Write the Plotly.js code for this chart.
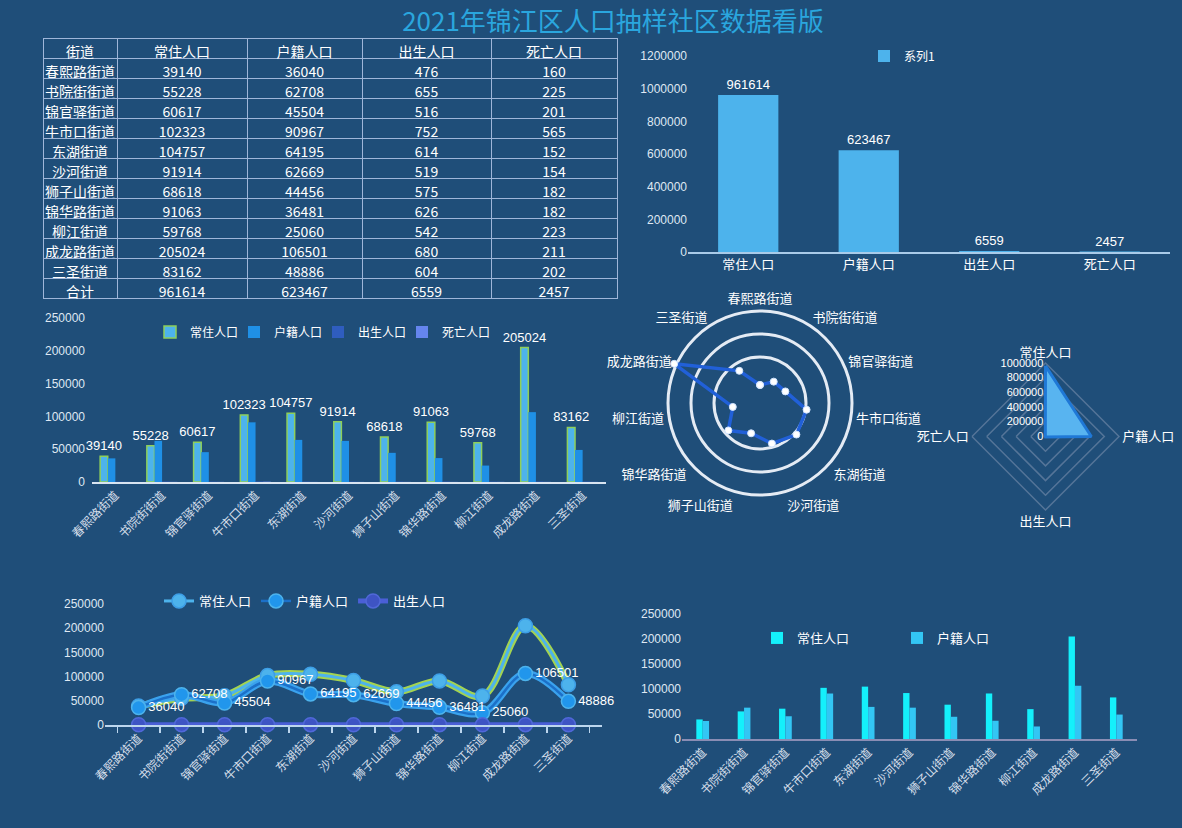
<!DOCTYPE html>
<html><head><meta charset="utf-8">
<script src="https://cdn.plot.ly/plotly-3.0.1.min.js"></script>
<style>html,body{margin:0;padding:0;background:#1f4e79;}#chart{width:1182px;height:828px;}</style>
</head><body><div id="chart"></div>
<script>
// ---------- data ----------
const streets = ['春熙路街道','书院街街道','锦官驿街道','牛市口街道','东湖街道','沙河街道','狮子山街道','锦华路街道','柳江街道','成龙路街道','三圣街道'];
const resident = [39140, 55228, 60617, 102323, 104757, 91914, 68618, 91063, 59768, 205024, 83162];
const hukou    = [36040, 62708, 45504, 90967, 64195, 62669, 44456, 36481, 25060, 106501, 48886];
const births   = [476, 655, 516, 752, 614, 519, 575, 626, 542, 680, 604];
const deaths   = [160, 225, 201, 565, 152, 154, 182, 182, 223, 211, 202];
const indicators = ['常住人口','户籍人口','出生人口','死亡人口'];
const tableHeader = ['街道','常住人口','户籍人口','出生人口','死亡人口'];
const totalLabel = '合计';
const titleText = '2021年锦江区人口抽样社区数据看版';

const sum = a => a.reduce((s, v) => s + v, 0);
const totals = [sum(resident), sum(hukou), sum(births), sum(deaths)];

// ---------- helpers ----------
const W = 1182, H = 828;
const px = x => x / W;
const py = y => 1 - y / H;
const FONT = 'Noto Sans CJK SC, Liberation Sans, sans-serif';
const NUMF = 'Liberation Sans, Noto Sans CJK SC, sans-serif';
const WHITE = '#ffffff';
const TICKC = '#dfe8f3';

const traces = [];

// ---------- table ----------
traces.push({
  type: 'table',
  domain: {x: [px(43), px(617)], y: [py(301), py(38)]},
  columnwidth: [74, 130, 115, 129, 126],
  header: {
    values: tableHeader, height: 20, align: 'center',
    fill: {color: 'rgba(0,0,0,0)'},
    line: {color: '#9fb6d9', width: 1},
    font: {family: FONT, size: 14, color: WHITE}
  },
  cells: {
    values: [streets.concat([totalLabel]), resident.concat([totals[0]]), hukou.concat([totals[1]]),
             births.concat([totals[2]]), deaths.concat([totals[3]])],
    height: 20, align: 'center',
    fill: {color: 'rgba(0,0,0,0)'},
    line: {color: '#9fb6d9', width: 1},
    font: {family: FONT, size: 14, color: WHITE}
  }
});

// ---------- chart 1: totals ----------
traces.push({
  type: 'bar', x: indicators, y: totals, xaxis: 'x', yaxis: 'y', name: '系列1', legend: 'legend',
  width: 0.5, offset: -0.25, marker: {color: '#4db3ec'},
  text: totals.map(String), textposition: 'outside', cliponaxis: false, constraintext: 'none',
  textfont: {family: NUMF, size: 13, color: WHITE}
});

// ---------- chart 2: grouped bars by street ----------
const w2 = 0.163;
[[resident, '常住人口', '#4db3ec', -2 * w2, true, 'legend2'],
 [hukou, '户籍人口', '#1f90e6', -w2, false, 'legend5'],
 [births, '出生人口', '#2f5dbf', 0, false, 'legend6'],
 [deaths, '死亡人口', '#6585ee', w2, false, 'legend7']].forEach(([vals, name, color, off, lab, lg]) => {
  const t = {
    type: 'bar', x: streets, y: vals, xaxis: 'x2', yaxis: 'y2', name: name, legend: lg,
    width: w2, offset: off, marker: {color: color, line: {color: lab ? '#8fcf5a' : color, width: lab ? 1.5 : 0}},
    cliponaxis: false
  };
  if (lab) {
    t.text = vals.map(String); t.textposition = 'outside'; t.constraintext = 'none';
    t.textfont = {family: NUMF, size: 13, color: WHITE};
  }
  traces.push(t);
});

// ---------- chart 3: radar of resident population ----------
traces.push({
  type: 'scatterpolar', subplot: 'polar',
  r: resident.concat([resident[0]]), theta: streets.concat([streets[0]]),
  mode: 'lines+markers', showlegend: false, cliponaxis: false,
  line: {color: '#2160d8', width: 3.5},
  marker: {color: WHITE, size: 7, line: {color: '#cfe3ff', width: 1}}
});

// ---------- chart 4: radar of totals ----------
traces.push({
  type: 'scatterpolar', subplot: 'polar2',
  r: totals.concat([totals[0]]), theta: indicators.concat([indicators[0]]),
  mode: 'lines', fill: 'toself', fillcolor: '#58b4f0', showlegend: false,
  line: {color: '#1f78d6', width: 3}
});

// ---------- chart 5: smooth lines ----------
traces.push({type: 'scatter', x: streets, y: resident, xaxis: 'x3', yaxis: 'y3', mode: 'lines', showlegend: false,
  line: {color: '#a3d352', width: 7, shape: 'spline', smoothing: 1}, cliponaxis: false});
traces.push({type: 'scatter', x: streets, y: resident, xaxis: 'x3', yaxis: 'y3', mode: 'lines+markers', name: '常住人口', legend: 'legend3',
  line: {color: '#4db3ec', width: 3, shape: 'spline', smoothing: 1},
  marker: {size: 14, color: '#4db3ec', line: {color: '#3d9ee6', width: 1.5}}, cliponaxis: false});
traces.push({type: 'scatter', x: streets, y: hukou, xaxis: 'x3', yaxis: 'y3', mode: 'lines', showlegend: false,
  line: {color: '#3aa2ee', width: 7, shape: 'spline', smoothing: 1}, cliponaxis: false});
traces.push({type: 'scatter', x: streets, y: hukou, xaxis: 'x3', yaxis: 'y3', mode: 'lines+markers+text', name: '户籍人口', legend: 'legend3',
  line: {color: '#1c70c8', width: 2.5, shape: 'spline', smoothing: 1},
  marker: {size: 14, color: '#2196ec', line: {color: '#4db3ec', width: 1.5}},
  text: hukou.map(String), textposition: 'middle right', textfont: {family: NUMF, size: 13, color: WHITE}, cliponaxis: false});
traces.push({type: 'scatter', x: streets, y: births, xaxis: 'x3', yaxis: 'y3', mode: 'lines+markers', name: '出生人口', legend: 'legend3',
  line: {color: '#4a5fd6', width: 5, shape: 'spline', smoothing: 1},
  marker: {size: 14, color: '#3e54c4', line: {color: '#5068d8', width: 1.5}}, cliponaxis: false});

// ---------- chart 6: two bars ----------
const w6 = 0.154;
[[resident, '常住人口', '#14f0fb', -w6], [hukou, '户籍人口', '#33c6f4', 0]].forEach(([vals, name, color, off]) => {
  traces.push({type: 'bar', x: streets, y: vals, xaxis: 'x4', yaxis: 'y4', name: name, legend: 'legend4',
    width: w6, offset: off, marker: {color: color}});
});

// ---------- layout ----------
const tickFont = {family: NUMF, size: 12, color: TICKC};
const catFont = {family: FONT, size: 12, color: '#d5deea'};
function yax(top, bottom, range, dtick, anchor) {
  return {domain: [py(bottom), py(top)], range: range, dtick: dtick, tickformat: 'd', showgrid: false, zeroline: false,
          showline: false, ticks: '', tickfont: tickFont, anchor: anchor, fixedrange: true};
}
function xax(left, right, anchor, lineColor, angle, font) {
  return {domain: [px(left), px(right)], anchor: anchor, type: 'category', showgrid: false, zeroline: false,
          showline: true, linecolor: lineColor, linewidth: 1.5, ticks: '', tickangle: angle, tickfont: font, fixedrange: true};
}
function leg(xc, yc, extra) {
  return Object.assign({x: px(xc), y: py(yc), xanchor: 'center', yanchor: 'middle', orientation: 'h',
    bgcolor: 'rgba(0,0,0,0)', font: {family: FONT, size: 13, color: WHITE}, itemclick: false, itemdoubleclick: false,
    tracegroupgap: 0}, extra || {});
}
const smallLeg = {xanchor: 'left', font: {family: FONT, size: 12, color: WHITE}};

const layout = {
  width: W, height: H,
  paper_bgcolor: '#1f4e79', plot_bgcolor: 'rgba(0,0,0,0)',
  margin: {l: 0, r: 0, t: 0, b: 0},
  barmode: 'overlay',
  hovermode: false,
  title: {text: titleText, x: px(613), xanchor: 'center', y: py(22), yanchor: 'middle', yref: 'container',
          font: {family: FONT, size: 26, color: '#2aa6de'}},
  // chart 1
  xaxis: xax(688, 1170, 'y', '#a9cbe9', 0, {family: FONT, size: 13, color: WHITE}),
  yaxis: yax(56, 252, [0, 1200000], 200000, 'x'),
  // chart 2
  xaxis2: xax(92, 606, 'y2', '#d8e4f1', -45, catFont),
  yaxis2: Object.assign(yax(318, 482, [0, 250000], 50000, 'x2'), {ticklabelstandoff: 6}),
  // chart 5
  xaxis3: Object.assign(xax(105, 602, 'y3', '#bcd6ee', -45, catFont),
    {ticks: 'outside', tickson: 'boundaries', ticklen: 6, tickcolor: '#bcd6ee', tickwidth: 1.2}),
  yaxis3: yax(604, 725, [0, 250000], 50000, 'x3'),
  // chart 6
  xaxis4: xax(682, 1137, 'y4', '#8a8db4', -45, catFont),
  yaxis4: yax(614, 739, [0, 250000], 50000, 'x4'),
  // radar 1
  polar: {
    domain: {x: [px(760 - 96.6), px(760 + 96.6)], y: [py(403 + 96.6), py(403 - 96.6)]},
    bgcolor: 'rgba(0,0,0,0)',
    angularaxis: {direction: 'clockwise', rotation: 90, showgrid: false, showline: false, ticks: '',
                  tickfont: {family: FONT, size: 13, color: WHITE}},
    radialaxis: {range: [0, 210000], tickvals: [100000, 150000, 200000], showticklabels: false, showline: false,
                 ticks: '', gridcolor: 'rgba(245,248,255,0.92)', gridwidth: 3}
  },
  // radar 2
  polar2: {
    domain: {x: [px(1045.5 - 73.5), px(1045.5 + 73.5)], y: [py(436.5 + 73.5), py(436.5 - 73.5)]},
    bgcolor: 'rgba(0,0,0,0)', gridshape: 'linear',
    angularaxis: {direction: 'clockwise', rotation: 90, showgrid: false, showline: true,
                  linecolor: 'rgba(150,165,190,0.45)', linewidth: 1.5, ticks: '',
                  tickfont: {family: FONT, size: 13, color: WHITE}},
    radialaxis: {range: [0, 1000000], tickvals: [0, 200000, 400000, 600000, 800000, 1000000], angle: 90,
                 tickformat: 'd', side: 'counterclockwise', showline: false, ticks: '', tickangle: 90,
                 gridcolor: 'rgba(150,165,190,0.45)', gridwidth: 1.5,
                 tickfont: {family: NUMF, size: 11, color: WHITE}}
  },
  legend: leg(902, 56, {font: {family: FONT, size: 12, color: WHITE}}),
  legend2: leg(150, 332, smallLeg),
  legend5: leg(234, 332, smallLeg),
  legend6: leg(318, 332, smallLeg),
  legend7: leg(402, 332, smallLeg),
  legend3: leg(305, 601),
  legend4: leg(897, 638, {entrywidth: 95, entrywidthmode: 'pixels'}),
  showlegend: true
};

Plotly.newPlot('chart', traces, layout, {staticPlot: true, displayModeBar: false});
</script>
</body></html>
